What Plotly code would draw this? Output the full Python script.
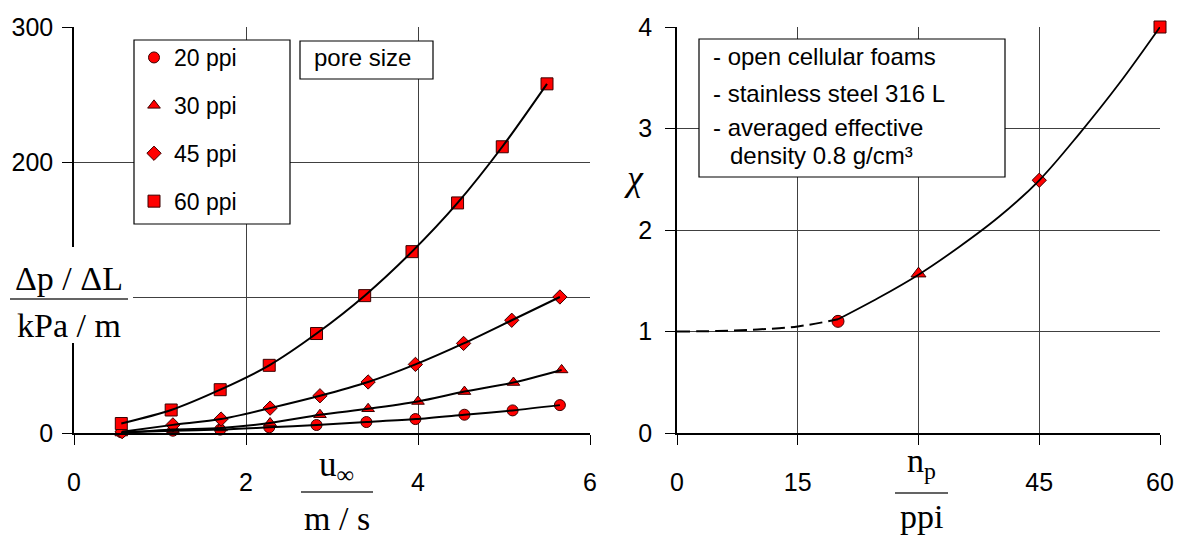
import plotly.graph_objects as go

# ---------------- data ----------------
u_20 = [0.55, 1.15, 1.70, 2.27, 2.82, 3.40, 3.97, 4.54, 5.10, 5.65]
dp_20 = [0.5, 1.7, 2.5, 4.2, 5.9, 8.1, 10.3, 13.5, 16.7, 20.6]
u_30 = [0.55, 1.15, 1.71, 2.28, 2.86, 3.42, 4.00, 4.54, 5.11, 5.67]
dp_30 = [0.0, 2.5, 3.7, 7.4, 13.5, 17.9, 23.3, 30.6, 37.3, 46.6]
u_45 = [0.56, 1.15, 1.71, 2.28, 2.86, 3.42, 3.97, 4.53, 5.09, 5.65]
dp_45 = [1.0, 6.0, 10.3, 18.4, 27.5, 37.7, 50.7, 66.2, 83.3, 100.5]
u_60 = [0.55, 1.13, 1.70, 2.27, 2.82, 3.38, 3.93, 4.46, 4.98, 5.50]
dp_60 = [7.0, 17.0, 32.0, 50.0, 73.5, 101.5, 134.0, 170.0, 211.5, 258.0]

series_names = ["20 ppi", "30 ppi", "45 ppi", "60 ppi"]
series_symbols = ["circle", "triangle-up", "diamond", "square"]

np_pts = [20, 30, 45, 60]
chi_pts = [1.10, 1.57, 2.49, 4.0]
fit_np = [20, 25, 30, 35, 40, 45, 50, 55, 60]
fit_chi = [1.12, 1.33, 1.56, 1.83, 2.13, 2.49, 2.95, 3.45, 4.0]
ext_np = [0, 5, 10, 15, 20]
ext_chi = [1.0, 1.005, 1.02, 1.05, 1.12]

left_xticks = [0, 2, 4, 6]
left_yticks = [0, 200, 300]
left_yminor = [100]
right_xticks = [0, 15, 45, 60]
right_xminor = [30]
right_yticks = [0, 1, 2, 3, 4]

info_lines = ["- open cellular foams", "- stainless steel 316 L", "- averaged effective"]
info_last = "density 0.8 g/cm³"

# ---------------- figure ----------------
# the page body has an 8px margin, so the figure starts 8px right/down
OFF = 8
W, H = 1174, 531


def fx(p):
    return (p - OFF) / W


def fy(p):
    return 1 - (p - OFF) / H


RED = "#ff0000"
EDGE = "#3a0000"
GRID = "#404040"
SANS = "Liberation Sans, Arial, sans-serif"
SERIF = "Liberation Serif, Times New Roman, serif"

fig = go.Figure()

left_data = [(u_20, dp_20, 11), (u_30, dp_30, 11), (u_45, dp_45, 11), (u_60, dp_60, 12)]
for (u, dp, sz), name, sym in zip(left_data, series_names, series_symbols):
    fig.add_trace(go.Scatter(
        x=u, y=dp, mode="markers", name=name, legendgroup=name,
        marker=dict(symbol=sym, size=sz, color=RED, line=dict(color=EDGE, width=1)),
        cliponaxis=False, xaxis="x", yaxis="y"))
for (u, dp, sz), name in zip(left_data, series_names):
    fig.add_trace(go.Scatter(
        x=u, y=dp, mode="lines", showlegend=False, legendgroup=name,
        line=dict(color="black", width=2, shape="spline", smoothing=0.8),
        xaxis="x", yaxis="y"))

# right chart
right_sizes = [12, 13, 11, 12]
for xv, yv, sym, sz in zip(np_pts, chi_pts, series_symbols, right_sizes):
    fig.add_trace(go.Scatter(
        x=[xv], y=[yv], mode="markers", showlegend=False,
        marker=dict(symbol=sym, size=sz, color=RED, line=dict(color=EDGE, width=1)),
        cliponaxis=False, xaxis="x2", yaxis="y2"))
fig.add_trace(go.Scatter(
    x=fit_np, y=fit_chi, mode="lines", showlegend=False,
    line=dict(color="black", width=1.8, shape="spline"), xaxis="x2", yaxis="y2"))
fig.add_trace(go.Scatter(
    x=ext_np, y=ext_chi, mode="lines", showlegend=False,
    line=dict(color="black", width=2, shape="spline", dash="13px,6px"), xaxis="x2", yaxis="y2"))

axis_common = dict(
    showgrid=True, gridcolor=GRID, gridwidth=1, zeroline=False,
    showline=True, linecolor="black", linewidth=1.5,
    ticks="outside", ticklen=10, tickwidth=1.2, tickcolor="black",
    tickfont=dict(family=SANS, size=25, color="black"),
    fixedrange=True, automargin=False,
)
minor_common = dict(showgrid=True, gridcolor=GRID, gridwidth=1,
                    ticks="outside", ticklen=10, tickwidth=1.2, tickcolor="black")

fig.update_layout(
    width=W, height=H, autosize=False,
    margin=dict(l=0, r=0, t=0, b=0, pad=0),
    paper_bgcolor="white", plot_bgcolor="white",
    xaxis=dict(domain=[fx(74), fx(590)], range=[0, 6], tickvals=left_xticks,
               anchor="y", ticklabelstandoff=16, **axis_common),
    yaxis=dict(domain=[fy(433), fy(27)], range=[0, 300], tickvals=left_yticks,
               minor=dict(tickvals=left_yminor, **minor_common),
               anchor="x", ticklabelstandoff=4, **axis_common),
    xaxis2=dict(domain=[fx(677), fx(1160)], range=[0, 60], tickvals=right_xticks,
                minor=dict(tickvals=right_xminor, **minor_common),
                anchor="y2", ticklabelstandoff=16, **axis_common),
    yaxis2=dict(domain=[fy(433), fy(27)], range=[0, 4], tickvals=right_yticks,
                anchor="x2", ticklabelstandoff=8, **axis_common),
    showlegend=True,
    legend=dict(x=fx(134), y=fy(36), xanchor="left", yanchor="top",
                bgcolor="rgba(0,0,0,0)", borderwidth=0,
                font=dict(family=SANS, size=23, color="black"),
                tracegroupgap=15, traceorder="grouped"),
)

shapes = []
annots = []


def rect(x0, y0, x1, y1, line=True):
    shapes.append(dict(type="rect", xref="paper", yref="paper", layer="above",
                       x0=fx(x0), x1=fx(x1), y0=fy(y1), y1=fy(y0),
                       fillcolor="white",
                       line=dict(color="black", width=1.2) if line else dict(width=0)))


def hline(x0, x1, y, w=1.5):
    shapes.append(dict(type="line", xref="paper", yref="paper", layer="above",
                       x0=fx(x0), x1=fx(x1), y0=fy(y), y1=fy(y),
                       line=dict(color="#303030", width=w)))


def text(t, x, y, size, family, xanchor="center"):
    annots.append(dict(text=t, xref="paper", yref="paper", x=fx(x), y=fy(y),
                       xanchor=xanchor, yanchor="middle", showarrow=False,
                       font=dict(family=family, size=size, color="black")))


# legend frame and "pore size" box
rect(134, 40, 290, 224)
rect(300, 41, 433, 79)
text("pore size", 312, 58, 24, SANS, "left")

# left y title (fraction) with white background
rect(OFF, 247, 133, 343, line=False)
text("Δp / ΔL", 69, 278.5, 34, SERIF)
hline(10, 128, 299)
text("kPa / m", 69, 325.5, 34, SERIF)

# left x title
text("u<sub>∞</sub>", 336, 466, 35, SERIF)
hline(301, 373, 492)
text("m / s", 337, 518.5, 34, SERIF)

# right x title
text("n<sub>p</sub>", 921, 463, 34, SERIF)
hline(895, 948, 493)
text("ppi", 921, 516.5, 34, SERIF)

# right y title
text("<i>χ</i>", 634, 178, 36, SERIF)

# info box on right chart
rect(699, 39, 1005, 177)
for t, yc in zip(info_lines, [56.7, 93.4, 127.7]):
    text(t, 711, yc, 24, SANS, "left")
text(info_last, 728, 155.7, 24, SANS, "left")

fig.update_layout(shapes=shapes, annotations=annots)

fig.write_html("out.html")
